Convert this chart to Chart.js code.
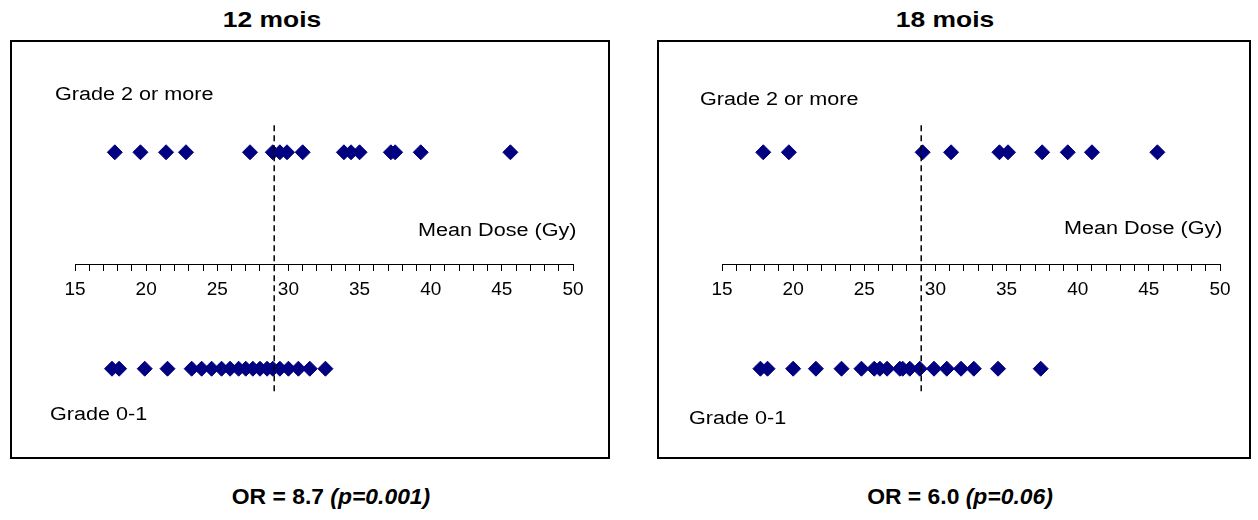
<!DOCTYPE html>
<html>
<head>
<meta charset="utf-8">
<script src="https://cdn.jsdelivr.net/npm/chart.js@4/dist/chart.umd.min.js"></script>
<style>
    body { margin: 0; background: #fff; font-family: "Liberation Sans", Arial, sans-serif; }
    #page { position: relative; width: 1258px; height: 520px; overflow: hidden; }
    .box { position: absolute; border: 2px solid #000; box-sizing: border-box; }
    .box canvas { position: absolute; left: 0; top: 0; }
    .txt { position: absolute; white-space: nowrap; color: #000; }
    .title { font-weight: bold; font-size: 22px; transform: translateX(-50%) scaleX(1.2); }
    .or { font-weight: bold; font-size: 22px; transform: translateX(-50%) scaleX(1.04); }
    .lbl { font-size: 18px; transform-origin: 0 50%; transform: scaleX(1.2); }
</style>
</head>
<body>
<div id="page">
    <div class="txt title" style="left:272px; top:7px;">12 mois</div>
    <div class="txt title" style="left:945px; top:7px;">18 mois</div>

    <div class="box" style="left:10px; top:40px; width:600px; height:419px;">
        <canvas id="chart12"></canvas>
    </div>
    <div class="box" style="left:657px; top:40px; width:594px; height:419px;">
        <canvas id="chart18"></canvas>
    </div>

    <div class="txt lbl" style="left:55px; top:84px;">Grade 2 or more</div>
    <div class="txt lbl" style="left:50px; top:404px;">Grade 0-1</div>
    <div class="txt lbl" style="left:418px; top:220px;">Mean Dose (Gy)</div>

    <div class="txt lbl" style="left:700px; top:89px;">Grade 2 or more</div>
    <div class="txt lbl" style="left:689px; top:408px;">Grade 0-1</div>
    <div class="txt lbl" style="left:1064px; top:218px;">Mean Dose (Gy)</div>

    <div class="txt or" style="left:331px; top:484px;">OR = 8.7 <i>(p=0.001)</i></div>
    <div class="txt or" style="left:960px; top:484px;">OR = 6.0 <i>(p=0.06)</i></div>
</div>

<script>
// doses moyennes (Gy)
const dose12High = [17.8, 19.6, 21.4, 22.8, 27.3, 28.9, 29.4, 29.9, 31.0, 33.9, 34.4, 35.0, 37.2, 37.5, 39.3, 45.6];
const dose12Low = [17.6, 18.1, 19.9, 21.5, 23.2, 23.9, 24.6, 25.3, 25.9, 26.5, 27.0, 27.5, 28.0, 28.5, 28.9, 29.4, 30.0, 30.7, 31.5, 32.6];
const dose18High = [17.9, 19.7, 29.1, 31.1, 34.5, 35.1, 37.5, 39.3, 41.0, 45.6];
const dose18Low = [17.7, 18.2, 20.0, 21.6, 23.4, 24.8, 25.7, 26.1, 26.6, 27.5, 27.7, 28.2, 28.9, 29.9, 30.8, 31.8, 32.7, 34.4, 37.4];

const GRADE_HIGH = 1;   // Grade 2 or more
const GRADE_LOW = 0;    // Grade 0-1
const cutoffDose = 29;  // seuil (ligne pointillée)
const xMin = 15;
const xMax = 50;

const navy = '#000080';

// ligne pointillée verticale au seuil
const cutoffLine = {
    id: 'cutoffLine',
    afterDatasetsDraw(chart) {
        const x = chart.scales.x.getPixelForValue(cutoffDose);
        const y1 = chart.scales.y.getPixelForValue(1.125);
        const y2 = chart.scales.y.getPixelForValue(-0.11);
        const c = chart.ctx;
        c.save();
        c.strokeStyle = '#000';
        c.lineWidth = 1.5;
        c.setLineDash([6, 4]);
        c.beginPath();
        c.moveTo(x, y1);
        c.lineTo(x, y2);
        c.stroke();
        c.restore();
    }
};

function toPoints(doses, grade) {
    return doses.map(d => ({ x: d, y: grade }));
}

function createDoseChart(id, width, high, low, padRight) {
    const canvas = document.getElementById(id);
    canvas.width = width;
    canvas.height = 415;
    canvas.style.width = width + 'px';
    canvas.style.height = '415px';

    new Chart(canvas, {
        type: 'scatter',
        data: {
            datasets: [
                {
                    data: toPoints(high, GRADE_HIGH),
                    pointStyle: 'rectRot',
                    pointRadius: 7.5,
                    backgroundColor: navy,
                    borderColor: navy,
                    borderWidth: 1
                },
                {
                    data: toPoints(low, GRADE_LOW),
                    pointStyle: 'rectRot',
                    pointRadius: 7.5,
                    backgroundColor: navy,
                    borderColor: navy,
                    borderWidth: 1
                }
            ]
        },
        plugins: [cutoffLine],
        options: {
            responsive: false,
            animation: false,
            layout: {
                padding: { left: 63, right: padRight, top: 67, bottom: 45 }
            },
            plugins: {
                legend: { display: false },
                tooltip: { enabled: false }
            },
            scales: {
                x: {
                    type: 'linear',
                    min: xMin,
                    max: xMax,
                    position: { y: 0.48 },
                    border: { color: '#000', width: 1 },
                    grid: {
                        drawOnChartArea: false,
                        tickLength: 6,
                        tickColor: '#000'
                    },
                    ticks: {
                        stepSize: 1,
                        autoSkip: false,
                        maxRotation: 0,
                        color: '#000',
                        padding: 8,
                        font: { family: 'Liberation Sans', size: 19 },
                        callback: function(value) {
                            return value % 5 === 0 ? value : '';
                        }
                    }
                },
                y: {
                    display: false,
                    min: -0.2,
                    max: 1.2
                }
            }
        }
    });
}

createDoseChart('chart12', 596, dose12High, dose12Low, 35);
createDoseChart('chart18', 590, dose18High, dose18Low, 29);
</script>
</body>
</html>
